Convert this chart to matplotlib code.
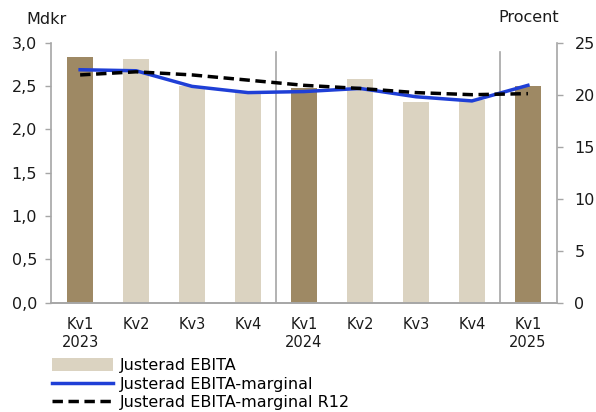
import matplotlib
matplotlib.use("Agg")
import matplotlib.pyplot as plt
from matplotlib.patches import Patch
from matplotlib.lines import Line2D

plt.rcParams['font.family'] = ['DejaVu Sans']

categories = ["Kv1\n2023", "Kv2", "Kv3", "Kv4", "Kv1\n2024", "Kv2", "Kv3", "Kv4", "Kv1\n2025"]
ebita = [2.83, 2.81, 2.50, 2.43, 2.48, 2.58, 2.31, 2.34, 2.50]
margin = [22.4, 22.3, 20.8, 20.2, 20.3, 20.6, 19.8, 19.4, 20.9]
margin_r12 = [21.9, 22.2, 21.9, 21.4, 20.9, 20.6, 20.2, 20.0, 20.1]
highlight = [True, False, False, False, True, False, False, False, True]

dark = "#9e8964"
light = "#dbd3c1"
blue = "#1f3fd6"
grey = "#a6a6a6"

fig = plt.figure(figsize=(5.96, 4.12), dpi=100)
ax = fig.add_axes([0.0856, 0.2653, 0.849, 0.6311])
ax2 = ax.twinx()

x = list(range(len(categories)))
colors = [dark if h else light for h in highlight]
ax.bar(x, ebita, width=0.46, color=colors, zorder=2)
ax.set_ylim(0, 3.0)
ax.set_xlim(-0.52, 8.52)
ax.set_yticks([0, 0.5, 1.0, 1.5, 2.0, 2.5, 3.0])
ax.set_yticklabels(["0,0", "0,5", "1,0", "1,5", "2,0", "2,5", "3,0"])
ax.set_xticks(x)
ax.set_xticklabels(categories, linespacing=1.3)

for sx in [3.5, 7.5]:
    ax.axvline(sx, ymin=0, ymax=0.964, color=grey, lw=1.2, zorder=1)

ax2.plot(x, margin, color=blue, lw=2.5, zorder=3)
ax2.plot(x, margin_r12, color="black", lw=2.5, ls=(0, (3, 1.6)), zorder=4)
ax2.set_ylim(0, 25)
ax2.set_yticks([0, 5, 10, 15, 20, 25])
ax2.set_xlim(-0.52, 8.52)

for a in (ax, ax2):
    a.spines['top'].set_visible(False)
    for s in ['left', 'right', 'bottom']:
        a.spines[s].set_color(grey)
        a.spines[s].set_linewidth(1.2)
    a.tick_params(axis='y', colors=grey, labelcolor="#1a1a1a", labelsize=11.5, length=4.5, width=1)
    a.tick_params(axis='x', length=0, labelsize=10.5, labelcolor="#1a1a1a", pad=10)
ax.spines['right'].set_visible(False)
ax2.spines['left'].set_visible(False)
ax.tick_params(axis='y', pad=5.5)
ax2.tick_params(axis='y', pad=8)

fig.text(0.045, 0.952, "Mdkr", fontsize=11.5, color="#1a1a1a", ha="left", va="center")
fig.text(0.837, 0.957, "Procent", fontsize=11.5, color="#1a1a1a", ha="left", va="center")

handles = [Patch(facecolor=light, edgecolor='none'),
           Line2D([], [], color=blue, lw=2.5),
           Line2D([], [], color="black", lw=2.5, ls=(0, (3, 1.6)))]
labels = ["Justerad EBITA", "Justerad EBITA-marginal", "Justerad EBITA-marginal R12"]
fig.legend(handles, labels, loc="upper left", bbox_to_anchor=(0.087, 0.131),
           frameon=False, fontsize=11.5, handlelength=3.85, handleheight=0.9,
           handletextpad=0.4, labelspacing=0.22, borderpad=0, borderaxespad=0)

fig.savefig("out.png", dpi=100)
